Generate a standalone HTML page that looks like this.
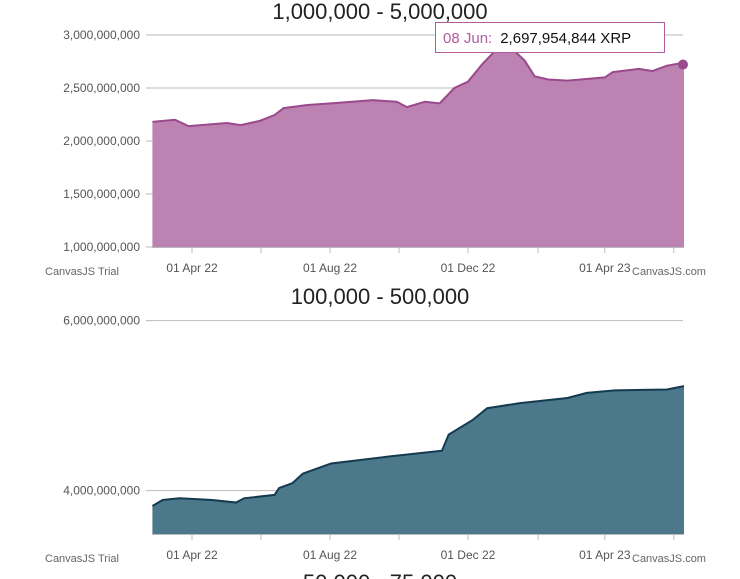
<!DOCTYPE html>
<html><head><meta charset="utf-8"><style>
body{margin:0;background:#fff;width:740px;height:579px;overflow:hidden;font-family:"Liberation Sans",sans-serif}
svg{display:block}
</style></head><body>
<svg id="s" width="740" height="579" viewBox="0 0 740 579"></svg>
<script>
// Day offsets from 01 Apr 2022
const days1=[-35,-15,-3,31,43,60,73,81,102,123,160,181,190,206,219,232,244,257,269,286,294,303,315,332,365,372,395,407,420,435];
const vals1=[2.18,2.20,2.14,2.17,2.15,2.19,2.245,2.31,2.34,2.355,2.385,2.37,2.32,2.37,2.355,2.5,2.56,2.73,2.86,2.84,2.76,2.61,2.58,2.57,2.60,2.65,2.68,2.66,2.71,2.74];
const days2=[-35,-26,-11,18,39,46,73,77,89,98,123,173,221,227,248,261,290,332,349,374,420,435];
const vals2=[3.82,3.89,3.91,3.89,3.86,3.91,3.95,4.03,4.09,4.20,4.32,4.40,4.47,4.66,4.83,4.97,5.03,5.09,5.15,5.18,5.19,5.23];
const ticks1=[1,1.5,2,2.5,3];
const ticks2=[4,6];
const xLabels=["01 Apr 22","01 Aug 22","01 Dec 22","01 Apr 23"];
const xLabelDays=[0,122,244,365];
const minorDays=[61,183,306,426];
const NS="http://www.w3.org/2000/svg";
const svg=document.getElementById('s');
function mk(t,a,p){const e=document.createElementNS(NS,t);for(const k in a)e.setAttribute(k,a[k]);(p||svg).appendChild(e);return e;}
const x=d=>192+d*1.131;
function fmt(v){return Math.round(v*1e9).toLocaleString('en-US');}
function chart(o){
  const g=mk('g',{});
  
  
  const y=v=>o.y0-(v-o.vmin)*o.ppu;
  const t=mk('text',{x:380,y:o.ty,'text-anchor':'middle','font-size':22,fill:'#222'},g);t.textContent=o.title;
  
  o.ticks.forEach(v=>{
    const gl=mk('line',{x1:146,x2:683,y1:y(v),y2:y(v),stroke:'#bbb','stroke-width':1},g);
    
    const tl=mk('text',{x:140,y:y(v)+4,'text-anchor':'end','font-size':12,fill:'#555'},g);tl.textContent=fmt(v);
    
  });
  let d=`M${x(o.days[0])},${o.y0}`;
  o.days.forEach((dd,i)=>{d+=` L${x(dd)},${y(o.vals[i])}`;});
  d+=` L${x(o.days[o.days.length-1])},${o.y0}Z`;
  const a=mk('path',{d,fill:o.fill},g);
  
  const l=mk('polyline',{points:o.days.map((dd,i)=>x(dd)+','+y(o.vals[i])).join(' '),fill:'none',stroke:o.line,'stroke-width':2},g);
  
  mk('line',{x1:152,x2:684,y1:o.y0+0.5,y2:o.y0+0.5,stroke:'#bbb'},g);
  xLabelDays.concat(minorDays).forEach(dd=>mk('line',{x1:x(dd),x2:x(dd),y1:o.y0,y2:o.y0+6,stroke:'#bbb'},g));
  xLabels.forEach((s,i)=>{const tx=mk('text',{x:x(xLabelDays[i]),y:o.y0+25,'text-anchor':'middle','font-size':12,fill:'#555'},g);tx.textContent=s;
    });
  const c1=mk('text',{x:45,y:o.y0+28,'font-size':11,fill:'#666'},g);c1.textContent='CanvasJS Trial';
  
  const c2=mk('text',{x:632,y:o.y0+28,'font-size':11,fill:'#666'},g);c2.textContent='CanvasJS.com';
  
  return y;
}
const y1=chart({name:'chart-1m-5m',title:'1,000,000 - 5,000,000',ty:19,y0:247,vmin:1,ppu:106,ticks:ticks1,days:days1,vals:vals1,fill:'#bc82b1',line:'#9a4a8c'});
chart({name:'chart-100k-500k',title:'100,000 - 500,000',ty:304,y0:534,vmin:3.49,ppu:85,ticks:ticks2,days:days2,vals:vals2,fill:'#4b788b',line:'#143a50'});
const t3=mk('text',{x:380,y:590,'text-anchor':'middle','font-size':22,fill:'#222'});t3.textContent='50,000 - 75,000';

const m=mk('circle',{cx:x(days1[days1.length-1])-1,cy:y1(vals1[vals1.length-1])+2,r:5,fill:'#9a4a8c'});

const tg=mk('g',{});

mk('rect',{x:435.5,y:22.5,width:229,height:30,fill:'#fff',stroke:'#b05c9e','stroke-width':1},tg);
const tt=mk('text',{x:443,y:43,'font-size':15},tg);
const s1=mk('tspan',{fill:'#b05c9e'},tt);s1.textContent='08 Jun:';
const s2=mk('tspan',{fill:'#111',dx:8},tt);s2.textContent='2,697,954,844 XRP';
</script>
</body></html>
